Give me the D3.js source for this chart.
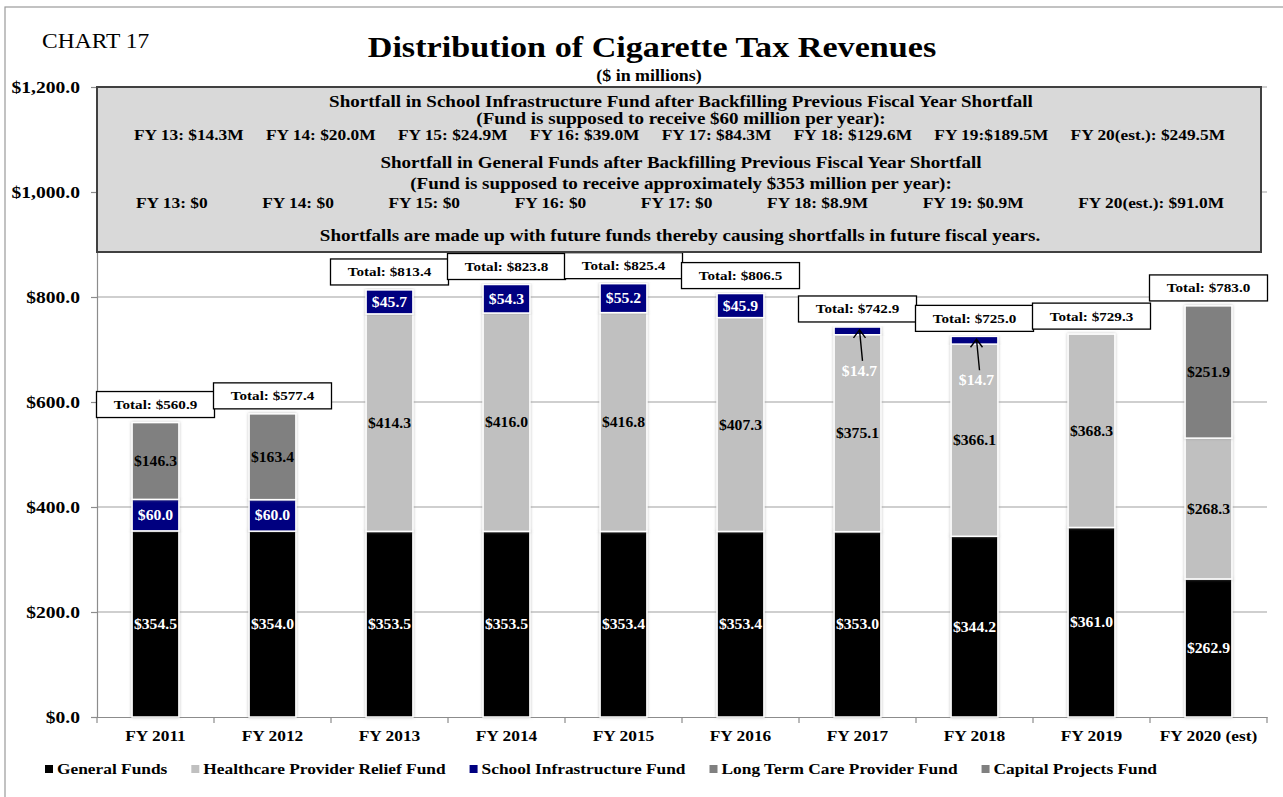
<!DOCTYPE html>
<html>
<head>
<meta charset="utf-8">
<script src="https://cdn.jsdelivr.net/npm/d3@7/dist/d3.min.js"></script>
<style>
  html, body { margin: 0; padding: 0; background: #fff; }
  svg { display: block; font-family: "Liberation Serif", "Times New Roman", serif; }
</style>
</head>
<body>
<div id="chart"></div>
<script>
// Chart values
const years = ['FY 2011', 'FY 2012', 'FY 2013', 'FY 2014', 'FY 2015', 'FY 2016', 'FY 2017', 'FY 2018', 'FY 2019', 'FY 2020 (est)']
const generalFunds = [354.5, 354.0, 353.5, 353.5, 353.4, 353.4, 353.0, 344.2, 361.0, 262.9]
const healthcareFund = [0, 0, 414.3, 416.0, 416.8, 407.3, 375.1, 366.1, 368.3, 268.3]
const schoolFund = [60.0, 60.0, 45.7, 54.3, 55.2, 45.9, 14.7, 14.7, 0, 0]
const longTermCareFund = [146.3, 163.4, 0, 0, 0, 0, 0, 0, 0, 0]
const capitalProjectsFund = [0, 0, 0, 0, 0, 0, 0, 0, 0, 251.9]
const totals = [560.9, 577.4, 813.4, 823.8, 825.4, 806.5, 742.9, 725.0, 729.3, 783.0]
const yTicks = [0, 200, 400, 600, 800, 1000, 1200]

const schoolShortfall = ['FY 13: $14.3M', 'FY 14: $20.0M', 'FY 15: $24.9M', 'FY 16: $39.0M',
    'FY 17: $84.3M', 'FY 18: $129.6M', 'FY 19:$189.5M', 'FY 20(est.): $249.5M']
const generalShortfall = ['FY 13: $0', 'FY 14: $0', 'FY 15: $0', 'FY 16: $0',
    'FY 17: $0', 'FY 18: $8.9M', 'FY 19: $0.9M', 'FY 20(est.): $91.0M']

const series = [
    { name: 'General Funds', values: generalFunds, color: '#000000', text: '#ffffff' },
    { name: 'Healthcare Provider Relief Fund', values: healthcareFund, color: '#c0c0c0', text: '#000000' },
    { name: 'School Infrastructure Fund', values: schoolFund, color: '#000080', text: '#ffffff' },
    { name: 'Long Term Care Provider Fund', values: longTermCareFund, color: '#808080', text: '#000000' },
    { name: 'Capital Projects Fund', values: capitalProjectsFund, color: '#808080', text: '#000000' }
]

// The source picture is a little wider than tall, so text gets stretched the same way
const SX = 1.12
const W = 1283, H = 797
const plot = { left: 97, right: 1267, top: 87, bottom: 717 }

const svg = d3.select('#chart').append('svg')
    .attr('width', W)
    .attr('height', H)

const defs = svg.append('defs')
const shadow = defs.append('filter').attr('id', 'shadow')
    .attr('x', '-20%').attr('y', '-5%').attr('width', '140%').attr('height', '110%')
shadow.append('feDropShadow')
    .attr('dx', 0).attr('dy', 0).attr('stdDeviation', 1.6)
    .attr('flood-color', '#888').attr('flood-opacity', 0.55)

// Helper: stretched real text
function label(parent, x, y, s, size, opts = {}) {
    return parent.append('text')
        .attr('transform', `translate(${x},${y}) scale(${SX},1)`)
        .attr('text-anchor', opts.anchor || 'middle')
        .attr('font-size', size)
        .attr('font-weight', opts.weight || 'bold')
        .attr('fill', opts.fill || '#000')
        .text(s)
}

// Outer frame
svg.append('rect')
    .attr('x', 5).attr('y', 7)
    .attr('width', W + 10).attr('height', H + 10)
    .attr('fill', 'none')
    .attr('stroke', '#9a9a9a')
    .attr('stroke-width', 1.2)

const x = d3.scaleBand()
    .domain(years)
    .range([plot.left, plot.right])
    .paddingInner(0.6)
    .paddingOuter(0.3)

const y = d3.scaleLinear()
    .domain([0, 1200])
    .range([plot.bottom, plot.top])

// Gridlines
svg.append('g')
    .selectAll('line')
    .data(yTicks.filter(d => d > 0))
    .enter()
    .append('line')
    .attr('x1', plot.left).attr('x2', plot.right)
    .attr('y1', d => y(d)).attr('y2', d => y(d))
    .attr('stroke', '#a0a0a0')
    .attr('stroke-width', 1.2)

// Y axis
const yAxis = svg.append('g')
    .attr('transform', `translate(${plot.left},0)`)
    .call(d3.axisLeft(y).tickValues(yTicks).tickSize(6)
        .tickFormat(d => '$' + d3.format(',.1f')(d)))
yAxis.selectAll('line, .domain').attr('stroke', '#8c8c8c').attr('stroke-width', 1.2)
yAxis.selectAll('text')
    .attr('x', -17 / SX)
    .attr('transform', `scale(${SX},1)`)
    .attr('font-family', '"Liberation Serif", serif')
    .attr('font-size', 17.5)
    .attr('font-weight', 'bold')
    .attr('fill', '#000')

// X axis: labels at centres, ticks at category boundaries
const xAxis = svg.append('g')
    .attr('transform', `translate(0,${plot.bottom})`)
    .call(d3.axisBottom(x).tickSize(0).tickPadding(13))
xAxis.select('.domain').attr('stroke', '#8c8c8c').attr('stroke-width', 1.2)
xAxis.selectAll('text')
    .attr('transform', `scale(${SX},1)`)
    .attr('font-family', '"Liberation Serif", serif')
    .attr('font-size', 15.5)
    .attr('font-weight', 'bold')
    .attr('fill', '#000')
xAxis.selectAll('.boundary')
    .data(d3.range(years.length + 1))
    .enter()
    .append('line')
    .attr('x1', i => plot.left + i * x.step())
    .attr('x2', i => plot.left + i * x.step())
    .attr('y1', 0).attr('y2', 6)
    .attr('stroke', '#8c8c8c')
    .attr('stroke-width', 1.2)

// Stacked bars
const table = years.map((yr, i) => {
    const row = { year: yr }
    series.forEach(s => { row[s.name] = s.values[i] })
    return row
})
const stack = d3.stack().keys(series.map(s => s.name))(table)

const bars = svg.append('g')
stack.forEach((layer, k) => {
    const s = series[k]
    const g = bars.append('g').attr('fill', s.color)
    g.selectAll('rect')
        .data(layer.filter(d => d[1] - d[0] > 0))
        .enter()
        .append('rect')
        .attr('x', d => x(d.data.year))
        .attr('y', d => y(d[1]))
        .attr('width', x.bandwidth())
        .attr('height', d => y(d[0]) - y(d[1]))
        .attr('stroke', '#fff')
        .attr('stroke-width', 1.5)
        .attr('filter', 'url(#shadow)')
})

// Segment value labels
const valueLabels = svg.append('g')
stack.forEach((layer, k) => {
    const s = series[k]
    layer.forEach(d => {
        const v = d[1] - d[0]
        if (v <= 0) return
        const cx = x(d.data.year) + x.bandwidth() / 2
        const text = '$' + d3.format('.1f')(v)
        if (v < 20) {
            // Thin segment: value sits lower, with an arrow pointing up to it
            const tipY = y((d[0] + d[1]) / 2) - 1
            const ly = tipY + 41
            label(valueLabels, cx + 2, ly + 5, text, 14, { fill: '#fff' })
            valueLabels.append('path')
                .attr('d', `M${cx + 5},${ly - 10} L${cx + 2},${tipY}` +
                    ` M${cx - 4},${tipY + 8} L${cx + 2},${tipY} L${cx + 8},${tipY + 8}`)
                .attr('fill', 'none')
                .attr('stroke', '#000')
                .attr('stroke-width', 1.4)
        } else {
            label(valueLabels, cx, y((d[0] + d[1]) / 2) + 5, text, 14, { fill: s.text })
        }
    })
})

// Total boxes above each bar
const totalG = svg.append('g')
totals.forEach((t, i) => {
    const cx = x(years[i]) + x.bandwidth() / 2
    const top = y(t)
    totalG.append('rect')
        .attr('x', cx - 59).attr('y', top - 31)
        .attr('width', 118).attr('height', 26)
        .attr('fill', '#fff')
        .attr('stroke', '#000')
        .attr('stroke-width', 1.3)
    label(totalG, cx, top - 13.5, 'Total: $' + d3.format('.1f')(t), 13.5)
})

// Titles
label(svg, 42, 48, 'CHART 17', 21, { anchor: 'start', weight: 'normal' })
label(svg, 652, 57, 'Distribution of Cigarette Tax Revenues', 30.5)
label(svg, 649, 81, '($ in millions)', 16)

// Shortfall note box
const note = svg.append('g')
note.append('rect')
    .attr('x', 97).attr('y', 87)
    .attr('width', 1164).attr('height', 165)
    .attr('fill', '#d9d9d9')
    .attr('stroke', '#404040')
    .attr('stroke-width', 2)

label(note, 681, 107, 'Shortfall in School Infrastructure Fund after Backfilling Previous Fiscal Year Shortfall', 17)
label(note, 681, 124, '(Fund is supposed to receive $60 million per year):', 17)
label(note, 681, 168, 'Shortfall in General Funds after Backfilling Previous Fiscal Year Shortfall', 17)
label(note, 681, 189, '(Fund is supposed to receive approximately $353 million per year):', 17)
label(note, 680, 241, 'Shortfalls are made up with future funds thereby causing shortfalls in future fiscal years.', 17)

// Spread a row of items evenly between x0 and x1
function justifyRow(items, x0, x1, yy) {
    const g = note.append('text')
        .attr('transform', `translate(${x0},${yy}) scale(${SX},1)`)
        .attr('font-size', 15.5)
        .attr('font-weight', 'bold')
    const spans = items.map(s => g.append('tspan').text(s))
    const widths = spans.map(sp => sp.node().getComputedTextLength())
    const span = (x1 - x0) / SX
    const gap = (span - d3.sum(widths)) / (items.length - 1)
    let pos = 0
    spans.forEach((sp, i) => {
        sp.attr('x', pos)
        pos += widths[i] + gap
    })
}
justifyRow(schoolShortfall, 134, 1225, 140)
justifyRow(generalShortfall, 136, 1224, 208)

// Legend
const legend = svg.append('g')
let lx = 45
series.forEach(s => {
    legend.append('rect')
        .attr('x', lx).attr('y', 765)
        .attr('width', 8).attr('height', 8)
        .attr('fill', s.color)
    const t = label(legend, lx + 12, 774, s.name, 15.5, { anchor: 'start' })
    lx += 12 + t.node().getComputedTextLength() * SX + 24
})
</script>
</body>
</html>
